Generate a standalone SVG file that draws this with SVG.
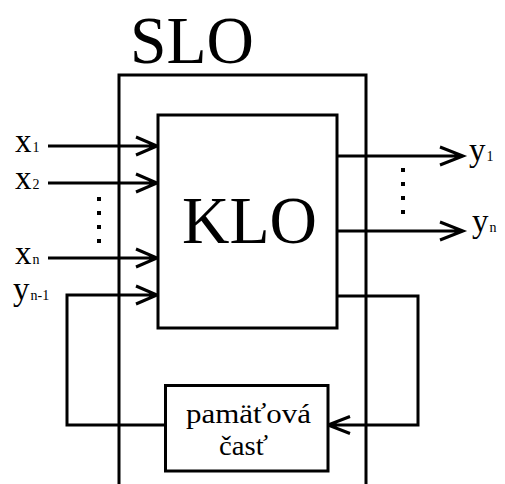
<svg xmlns="http://www.w3.org/2000/svg" width="505" height="484" viewBox="0 0 505 484">
<style>
.ln{fill:none;stroke:#000;stroke-width:3;stroke-linejoin:miter}
.bx{fill:#fff;stroke:#000;stroke-width:3}
.dot{fill:#000}
</style>
<rect width="505" height="484" fill="#fff"/>
<g id="SLO">
<path class="ln" d="M119,486 V75 H366 V486"/>
<text font-family="Liberation Serif, Times New Roman, Times, Tinos, Noto Serif, DejaVu Serif, serif" x="130" y="63" font-size="68" textLength="124" lengthAdjust="spacingAndGlyphs">SLO</text>
</g>
<g id="connectors">
<path class="ln" d="M48,146 H157 M136,137 L157,146 L136,155"/>
<path class="ln" d="M48,183 H157 M136,174 L157,183 L136,192"/>
<path class="ln" d="M48,258 H157 M136,249 L157,258 L136,267"/>
<path class="ln" d="M165,425 H67 V295 H157 M136,286 L157,295 L136,304"/>
<path class="ln" d="M337,156 H463 M440,147 L463,156 L440,165"/>
<path class="ln" d="M337,231 H463 M440,222 L463,231 L440,240"/>
<path class="ln" d="M337,296 H418 V425 H328 M350,416.5 L328,425 L350,433.5"/>
</g>
<g id="KLO">
<rect class="bx" x="158" y="115" width="179" height="213"/>
<text font-family="Liberation Serif, Times New Roman, Times, Tinos, Noto Serif, DejaVu Serif, serif" x="182" y="243" font-size="67" textLength="135" lengthAdjust="spacingAndGlyphs">KLO</text>
</g>
<g id="pamatova" font-family="Liberation Serif, Times New Roman, Times, Tinos, Noto Serif, DejaVu Serif, serif">
<rect class="bx" x="165.5" y="385.5" width="162.5" height="85.5"/>
<text x="186" y="422.5" font-size="27" textLength="125" lengthAdjust="spacingAndGlyphs">pamäťová</text>
<text x="219" y="455" font-size="27" textLength="49" lengthAdjust="spacingAndGlyphs">časť</text>
</g>
<g id="labels" font-family="Liberation Serif, Times New Roman, Times, Tinos, Noto Serif, DejaVu Serif, serif">
<text x="15" y="152" font-size="33">x<tspan font-size="14" dx="1">1</tspan></text>
<text x="15" y="189" font-size="33">x<tspan font-size="14" dx="1">2</tspan></text>
<text x="15" y="264" font-size="33">x<tspan font-size="14" dx="1">n</tspan></text>
<text x="13" y="300" font-size="33">y<tspan font-size="14" dx="1">n-1</tspan></text>
<text x="469" y="161" font-size="33">y<tspan font-size="14" dx="1">1</tspan></text>
<text x="472" y="232" font-size="33">y<tspan font-size="14" dx="1">n</tspan></text>
</g>
<g id="dots">
<rect class="dot" x="97" y="197" width="4" height="4"/>
<rect class="dot" x="97" y="211" width="4" height="4"/>
<rect class="dot" x="97" y="225" width="4" height="4"/>
<rect class="dot" x="97" y="239" width="4" height="4"/>
<rect class="dot" x="401" y="168" width="4" height="4"/>
<rect class="dot" x="401" y="182" width="4" height="4"/>
<rect class="dot" x="401" y="196" width="4" height="4"/>
<rect class="dot" x="401" y="210" width="4" height="4"/>
</g>
</svg>
